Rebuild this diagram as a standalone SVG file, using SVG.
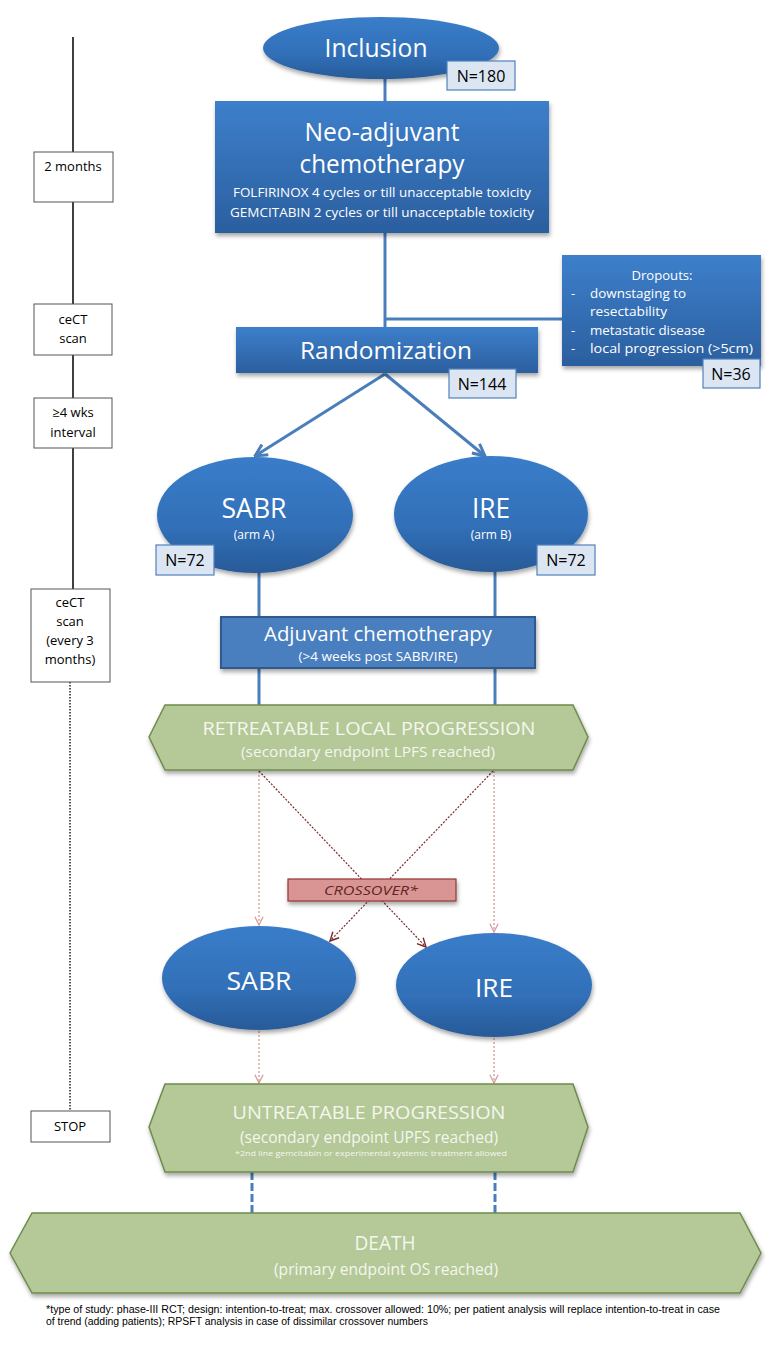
<svg xmlns="http://www.w3.org/2000/svg" width="784" height="1347" viewBox="0 0 784 1347">
<defs>
<linearGradient id="blue" x1="0" y1="0" x2="0" y2="1">
<stop offset="0" stop-color="#3d7fcb"/><stop offset="1" stop-color="#2b5f9f"/>
</linearGradient>
<linearGradient id="blueE" x1="0" y1="0" x2="0" y2="1">
<stop offset="0" stop-color="#3a7dca"/><stop offset="0.6" stop-color="#3170b8"/><stop offset="1" stop-color="#285a98"/>
</linearGradient>
<filter id="sh" x="-10%" y="-10%" width="130%" height="140%">
<feDropShadow dx="1" dy="3" stdDeviation="2" flood-color="#000" flood-opacity="0.35"/>
</filter>
<marker id="mBlue" viewBox="0 0 10 10" refX="9" refY="5" markerWidth="5" markerHeight="5" orient="auto">
<path d="M1,1 L9,5 L1,9" fill="none" stroke="#4a7ebb" stroke-width="2"/>
</marker>
<marker id="mPink" viewBox="0 0 10 10" refX="9" refY="5" markerWidth="8" markerHeight="8" orient="auto">
<path d="M1,1 L9,5 L1,9" fill="none" stroke="#d89a96" stroke-width="1.2"/>
</marker>
<marker id="mRed" viewBox="0 0 10 10" refX="9" refY="5" markerWidth="9" markerHeight="9" orient="auto">
<path d="M1,1 L9,5 L1,9" fill="none" stroke="#7a2a2a" stroke-width="1.3"/>
</marker>
<style>
text{font-family:"Open Sans","Liberation Sans",sans-serif;}
.w{fill:#ffffff;text-anchor:middle;}
.k{fill:#000000;text-anchor:middle;}
.d{fill:#ffffff;font-size:13px;}
.tb{fill:#ffffff;stroke:#555;stroke-width:1;}
.nb{fill:#dce6f2;stroke:#4f81bd;stroke-width:1.2;}
.bn{fill:url(#blue);filter:url(#sh);}
.be{fill:url(#blueE);filter:url(#sh);}
.gr{fill:#b4c898;stroke:#6f8c4b;stroke-width:1.5;filter:url(#sh);}
.gt{fill:#f4f7ee;text-anchor:middle;}
.bl{stroke:#4a7ebb;stroke-width:3;fill:none;}
.pk{stroke:#d89a96;stroke-width:1.3;stroke-dasharray:2 2;fill:none;}
.rd{stroke:#7a2a2a;stroke-width:1.2;stroke-dasharray:2 1.5;fill:none;}
.fn{font-family:"Liberation Sans",Arial,sans-serif;font-size:10px;fill:#000;}
</style>
</defs>
<rect width="784" height="1347" fill="#ffffff"/>

<g id="timeline">
<line x1="73" y1="37" x2="73" y2="590" stroke="#000" stroke-width="1.5"/>
<line x1="70" y1="682" x2="70" y2="1111" stroke="#000" stroke-width="1.3" stroke-dasharray="1.5 1.5"/>
<rect class="tb" x="34" y="152" width="79" height="50"/>
<text class="k" x="73" y="171" font-size="13">2 months</text>
<rect class="tb" x="34" y="304" width="78" height="51"/>
<text class="k" x="73" y="324" font-size="13">ceCT</text>
<text class="k" x="73" y="343" font-size="13">scan</text>
<rect class="tb" x="34" y="398" width="78" height="50"/>
<text class="k" x="73" y="417" font-size="13">≥4 wks</text>
<text class="k" x="73" y="437" font-size="13">interval</text>
<rect class="tb" x="31" y="589" width="79" height="93"/>
<text class="k" x="70" y="607" font-size="13">ceCT</text>
<text class="k" x="70" y="626" font-size="13">scan</text>
<text class="k" x="70" y="645" font-size="13">(every 3</text>
<text class="k" x="70" y="664" font-size="13">months)</text>
<rect class="tb" x="31" y="1111" width="79" height="31"/>
<text class="k" x="70" y="1131" font-size="13">STOP</text>
</g>

<g id="connectors">
<line class="bl" x1="385" y1="78" x2="385" y2="102"/>
<line class="bl" x1="385" y1="233" x2="385" y2="328"/>
<line class="bl" x1="385" y1="319" x2="563" y2="319"/>
<line class="bl" x1="385" y1="374" x2="255" y2="456" marker-end="url(#mBlue)"/>
<line class="bl" x1="385" y1="374" x2="485" y2="456" marker-end="url(#mBlue)"/>
<line class="bl" x1="259" y1="571" x2="259" y2="618"/>
<line class="bl" x1="495" y1="571" x2="495" y2="618"/>
<line class="bl" x1="259" y1="668" x2="259" y2="706"/>
<line class="bl" x1="495" y1="668" x2="495" y2="706"/>
<line class="pk" x1="259" y1="771" x2="259" y2="925" marker-end="url(#mPink)"/>
<line class="pk" x1="494" y1="771" x2="494" y2="932" marker-end="url(#mPink)"/>
<line class="rd" x1="259" y1="771" x2="426" y2="947" marker-end="url(#mRed)"/>
<line class="rd" x1="493" y1="771" x2="330" y2="941" marker-end="url(#mRed)"/>
<line class="pk" x1="259" y1="1031" x2="259" y2="1083" marker-end="url(#mPink)"/>
<line class="pk" x1="494" y1="1038" x2="494" y2="1083" marker-end="url(#mPink)"/>
<line x1="252" y1="1172" x2="252" y2="1213" stroke="#4a7ebb" stroke-width="3" stroke-dasharray="8 3"/>
<line x1="495" y1="1172" x2="495" y2="1213" stroke="#4a7ebb" stroke-width="3" stroke-dasharray="8 3"/>
</g>

<g id="inclusion">
<ellipse class="be" cx="381" cy="48" rx="118" ry="31"/>
<text class="w" x="376" y="57" font-size="25" textLength="103" lengthAdjust="spacingAndGlyphs">Inclusion</text>
<rect class="nb" x="447" y="61" width="68" height="29"/>
<text class="k" x="481" y="82" font-size="16">N=180</text>
</g>

<g id="neoadjuvant">
<rect class="bn" x="215" y="101" width="334" height="132"/>
<text class="w" x="382" y="141" font-size="26" textLength="155" lengthAdjust="spacingAndGlyphs">Neo-adjuvant</text>
<text class="w" x="382" y="173" font-size="25" textLength="165" lengthAdjust="spacingAndGlyphs">chemotherapy</text>
<text class="w" x="382" y="197" font-size="13" textLength="298" lengthAdjust="spacingAndGlyphs">FOLFIRINOX 4 cycles or till unacceptable toxicity</text>
<text class="w" x="382" y="217" font-size="13" textLength="304" lengthAdjust="spacingAndGlyphs">GEMCITABIN  2 cycles or till unacceptable toxicity</text>
</g>

<g id="dropouts">
<rect class="bn" x="562" y="255" width="199" height="111"/>
<text class="d" x="662" y="280" text-anchor="middle" textLength="61" lengthAdjust="spacingAndGlyphs">Dropouts:</text>
<text class="d" x="571" y="298">-</text>
<text class="d" x="590" y="298" textLength="96" lengthAdjust="spacingAndGlyphs">downstaging to</text>
<text class="d" x="590" y="316" textLength="77" lengthAdjust="spacingAndGlyphs">resectability</text>
<text class="d" x="571" y="335">-</text>
<text class="d" x="590" y="335" textLength="115" lengthAdjust="spacingAndGlyphs">metastatic disease</text>
<text class="d" x="571" y="353">-</text>
<text class="d" x="590" y="353" textLength="163" lengthAdjust="spacingAndGlyphs">local progression (&gt;5cm)</text>
<rect class="nb" x="703" y="359" width="57" height="29"/>
<text class="k" x="731" y="380" font-size="16">N=36</text>
</g>

<g id="randomization">
<rect class="bn" x="236" y="327" width="302" height="46"/>
<text class="w" x="386" y="359" font-size="24" textLength="172" lengthAdjust="spacingAndGlyphs">Randomization</text>
<rect class="nb" x="449" y="369" width="67" height="29"/>
<text class="k" x="482" y="390" font-size="16">N=144</text>
</g>

<g id="sabr-a">
<ellipse class="be" cx="255" cy="515" rx="98" ry="58"/>
<text class="w" x="254" y="518" font-size="28" textLength="65" lengthAdjust="spacingAndGlyphs">SABR</text>
<text class="w" x="254" y="539" font-size="12">(arm A)</text>
<rect class="nb" x="156" y="545" width="58" height="30"/>
<text class="k" x="185" y="566" font-size="16">N=72</text>
</g>

<g id="ire-b">
<ellipse class="be" cx="491" cy="514" rx="97" ry="58"/>
<text class="w" x="491" y="518" font-size="28" textLength="38" lengthAdjust="spacingAndGlyphs">IRE</text>
<text class="w" x="491" y="539" font-size="12">(arm B)</text>
<rect class="nb" x="537" y="545" width="58" height="30"/>
<text class="k" x="566" y="566" font-size="16">N=72</text>
</g>

<g id="adjuvant">
<rect x="221" y="617" width="314" height="51" fill="#4a7ebf" stroke="#2f5a8e" stroke-width="2" filter="url(#sh)"/>
<text class="w" x="378" y="641" font-size="20" textLength="228" lengthAdjust="spacingAndGlyphs">Adjuvant chemotherapy</text>
<text class="w" x="378" y="661" font-size="12" textLength="159" lengthAdjust="spacingAndGlyphs">(&gt;4 weeks post SABR/IRE)</text>
</g>

<g id="retreatable">
<polygon class="gr" points="149,737 165,705 573,705 588,737 573,770 165,770"/>
<text class="gt" x="369" y="735" font-size="19" textLength="333" lengthAdjust="spacingAndGlyphs">RETREATABLE LOCAL PROGRESSION</text>
<text class="gt" x="368" y="757" font-size="14" textLength="254" lengthAdjust="spacingAndGlyphs">(secondary endpoint LPFS reached)</text>
</g>

<g id="crossover">
<rect x="288" y="879" width="168" height="22" fill="#d99594" stroke="#943634" stroke-width="1.2" filter="url(#sh)"/>
<text x="371" y="895" font-size="13" font-style="italic" fill="#632523" text-anchor="middle" textLength="94" lengthAdjust="spacingAndGlyphs">CROSSOVER*</text>
</g>

<g id="sabr">
<ellipse class="be" cx="259" cy="978" rx="97" ry="52"/>
<text class="w" x="259" y="990" font-size="26" textLength="65" lengthAdjust="spacingAndGlyphs">SABR</text>
</g>

<g id="ire">
<ellipse class="be" cx="494" cy="985" rx="98" ry="52"/>
<text class="w" x="494" y="997" font-size="26" textLength="38" lengthAdjust="spacingAndGlyphs">IRE</text>
</g>

<g id="untreatable">
<polygon class="gr" points="149,1127 165,1084 573,1084 588,1127 573,1172 165,1172"/>
<text class="gt" x="369" y="1119" font-size="19" textLength="273" lengthAdjust="spacingAndGlyphs">UNTREATABLE PROGRESSION</text>
<text class="gt" x="369" y="1143" font-size="16" textLength="258" lengthAdjust="spacingAndGlyphs">(secondary endpoint UPFS reached)</text>
<text class="gt" x="371" y="1156" font-size="8" textLength="272" lengthAdjust="spacingAndGlyphs">*2nd line gemcitabin or experimental systemic treatment allowed</text>
</g>

<g id="death">
<polygon class="gr" points="10,1253 32,1213 740,1213 761,1253 740,1293 32,1293"/>
<text class="gt" x="385" y="1250" font-size="20" textLength="61" lengthAdjust="spacingAndGlyphs">DEATH</text>
<text class="gt" x="386" y="1275" font-size="16" textLength="224" lengthAdjust="spacingAndGlyphs">(primary endpoint OS reached)</text>
</g>

<g id="footnote">
<text class="fn" x="46" y="1313" textLength="674" lengthAdjust="spacingAndGlyphs">*type of study: phase-III RCT; design: intention-to-treat; max. crossover allowed: 10%; per patient analysis will replace intention-to-treat in case</text>
<text class="fn" x="46" y="1325" textLength="382" lengthAdjust="spacingAndGlyphs">of trend (adding patients); RPSFT analysis in case of dissimilar crossover numbers</text>
</g>
</svg>
